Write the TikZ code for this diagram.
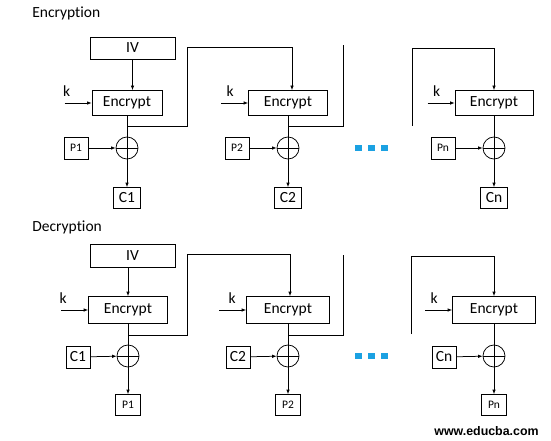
\documentclass[tikz,border=0pt]{standalone}
\usepackage{fontspec}
\setmainfont{Carlito}[Ligatures={NoCommon,NoRare}]
\newfontfamily\wwwfont{Liberation Sans}
\usetikzlibrary{arrows.meta}
\definecolor{dotblue}{RGB}{27,161,226}

\begin{document}
\begin{tikzpicture}[
x=1pt, y=-1pt,
font=\fontsize{15.5}{18}\selectfont,
line width=0.75pt,
  > = {Latex[length=4.5pt,width=3.5pt]},
  blk/.style = {rectangle, draw, inner sep=0pt,% boxes with text
                minimum width=24, minimum height=22},
  enc/.style = {blk, minimum height=25},
 sblk/.style = {blk, font=\fontsize{11.5}{13}\selectfont},
  xor/.style = {circle, draw, minimum size=22, inner sep=0pt,
                path picture={\draw (path picture bounding box.north) -- (path picture bounding box.south)
                                    (path picture bounding box.west) -- (path picture bounding box.east);}},
                        ]
\useasboundingbox (0,0) rectangle (551,441);
\node (T1) [anchor=west,inner sep=0pt] at (32,13) {Encryption};
\node (T2) [anchor=west,inner sep=0pt] at (32,227) {Decryption};
\node (IVa) [blk, minimum width=85] at (132.5,48) {IV};
\node (IVb) [blk, minimum width=85, minimum height=23] at (132.5,255.5) {IV};
% encryption row
\foreach \i/\n/\x/\w/\kx in {1/1/127/70/-2, 2/2/288/79/5, 3/n/494/78/5}{
    \node (eA-\i) [enc, minimum width=\w] at (\x,103) {Encrypt};
    \node (xA-\i) [xor] at (\x,148) {};
    \node (pA-\i) [sblk] at ({\x-51},148) {P\n};
    \node (cA-\i) [blk, minimum width=27, minimum height=21] at (\x,198) {C\n};
    \coordinate (kA-\i) at ([xshift=-27] eA-\i.west);
    \coordinate (jA-\i) at ([yshift=-11] eA-\i.south);
    \node (kla-\i) [anchor=base west, inner sep=0pt] at ([shift={(\kx,-6)}] kA-\i) {k};
    \draw[->] (kA-\i) -- (eA-\i);
    \draw (eA-\i) -- (xA-\i);
    \draw[->] (pA-\i) -- (xA-\i);
    \draw[->] (xA-\i) -- (cA-\i);
}
% decryption row
\foreach \i/\n/\x/\w/\kx in {1/1/128/79/-2, 2/2/288/83/9, 3/n/494/83/5}{
    \node (eB-\i) [enc, minimum width=\w, minimum height=27] at (\x,310) {Encrypt};
    \node (xB-\i) [xor] at (\x,356) {};
    \node (cB-\i) [blk] at ({\x-50},357) {C\n};
    \node (pB-\i) [sblk, minimum width=25, minimum height=21] at (\x,405) {P\n};
    \coordinate (kB-\i) at ([xshift=-27] eB-\i.west);
    \coordinate (jB-\i) at ([yshift=-11] eB-\i.south);
    \node (klb-\i) [anchor=base west, inner sep=0pt] at ([shift={(\kx,-7)}] kB-\i) {k};
    \draw[->] (kB-\i) -- (eB-\i);
    \draw (eB-\i) -- (xB-\i);
    \draw[->] (cB-\i) -- (xB-\i);
    \draw[->] (xB-\i) -- (pB-\i);
}
\draw[->] (IVa.south) -- (IVa.south |- eA-1.north);
\draw[->] (IVb.south -| eB-1.north) -- (eB-1.north);
% feedback lines
\coordinate (fA-1) at (187,47);
\coordinate (fA-2) at (343,45);
\coordinate (gA-3) at (412,126);
\coordinate (fA-3) at (412,48);
\draw[->] (jA-1) -| (fA-1) -| ([xshift=4] eA-2.north);
\draw (jA-2) -| (fA-2);
\draw[->] (gA-3) -- (fA-3) -| (eA-3.north);
\coordinate (fB-1) at (187,254);
\coordinate (fB-2) at (343,255);
\coordinate (gB-3) at (411,334);
\coordinate (fB-3) at (411,256);
\draw[->] (jB-1) -| (fB-1) -| ([xshift=2] eB-2.north);
\draw (jB-2) -| (fB-2);
\draw[->] (gB-3) -- (fB-3) -| (eB-3.north);
% dots
\foreach \y in {148,356}
  \foreach \d in {358,371,384}
    \fill[dotblue] ({\d-3.5},{\y-3}) rectangle ++(7,6);
\node (www) [inner sep=0pt, font=\wwwfont\bfseries\fontsize{12.4}{14}\selectfont] at (486.5,431) {www.educba.com};
\end{tikzpicture}
\end{document}
